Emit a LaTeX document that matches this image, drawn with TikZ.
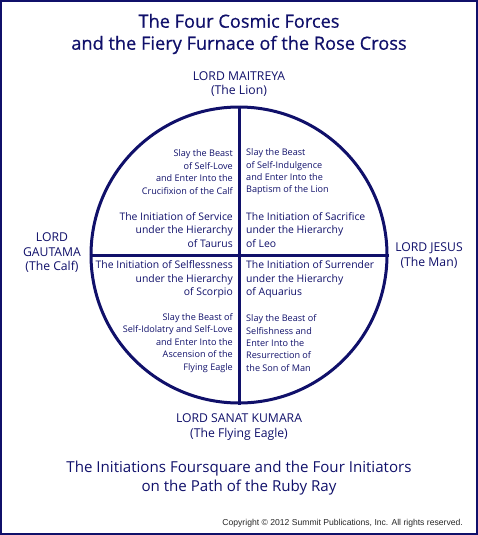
\documentclass[tikz,border=0pt]{standalone}
\usepackage{fontspec}
\setmainfont{Open Sans}
\newfontfamily\titlefont[FakeBold=0.6]{Open Sans}
\newfontfamily\copyfont{Liberation Sans}
\definecolor{navy}{RGB}{16,16,106}

\begin{document}
\begin{tikzpicture}[x=1pt,y=-1pt,
  every node/.style={text=navy,inner sep=0pt},
  title/.style={font=\titlefont\fontsize{18.2}{22}\selectfont,align=center},
  subtitle/.style={font=\fontsize{15.1}{19.5}\selectfont,align=center},
  lord/.style={font=\fontsize{12.2}{14.5}\selectfont,align=center},
  initiation/.style={font=\fontsize{10.4}{13.5}\selectfont},
  beast/.style={font=\fontsize{9.1}{12.4}\selectfont}]
  \useasboundingbox (0,0) rectangle (478,535);
  \draw[navy,line width=1.5pt] (1,1) rectangle (477,534);
  %
  \node[title] (title) at (239,34)
       {The Four Cosmic Forces\\and the Fiery Furnace of the Rose Cross};
  %
  \node[circle,draw=navy,line width=3pt,minimum size=296pt] (rose) at (239,255) {};
  \draw[navy,line width=3pt] (rose.north) -- (rose.south);
  \draw[navy,line width=3pt] (rose.west) -- (rose.east);
  %
  \node[lord] (maitreya) at (239,84) {LORD MAITREYA\\(The Lion)};
  \node[lord] (gautama) at (52,253) {LORD\\GAUTAMA\\(The Calf)};
  \node[lord] (jesus) at (429,255.5) {LORD JESUS\\(The Man)};
  \node[lord] (sanat) at (239,427) {LORD SANAT KUMARA\\(The Flying Eagle)};
  %
  % upper left
  \node[beast,align=right,anchor=east] (calf) at (233,172)
       {Slay the Beast\\of Self-Love\\and Enter Into the\\Crucifixion of the Calf};
  \node[initiation,align=right,anchor=east] (service) at (233,230)
       {The Initiation of Service\\under the Hierarchy\\of Taurus};
  % upper right
  \node[beast,align=left,anchor=west] (lion) at (246,172)
       {Slay the Beast\\of Self-Indulgence\\and Enter Into the\\Baptism of the Lion};
  \node[initiation,align=left,anchor=west] (sacrifice) at (246,230)
       {The Initiation of Sacrifice\\under the Hierarchy\\of Leo};
  % lower left
  \node[initiation,align=right,anchor=east] (selflessness) at (233,279.5)
       {The Initiation of Selflessness\\under the Hierarchy\\of Scorpio};
  \node[beast,align=right,anchor=east] (eagle) at (233,343)
       {Slay the Beast of\\Self-Idolatry and Self-Love\\and Enter Into the\\Ascension of the\\Flying Eagle};
  % lower right
  \node[initiation,align=left,anchor=west] (surrender) at (246,279.5)
       {The Initiation of Surrender\\under the Hierarchy\\of Aquarius};
  \node[beast,align=left,anchor=west] (man) at (246,343)
       {Slay the Beast of\\Selfishness and\\Enter Into the\\Resurrection of\\the Son of Man};
  %
  \node[subtitle] (subtitle) at (239,478)
       {The Initiations Foursquare and the Four Initiators\\on the Path of the Ruby Ray};
  \node[anchor=east,font=\copyfont\fontsize{8.6}{10}\selectfont,text=black!85] (copy) at (463,523)
       {Copyright \textcopyright\ 2012 Summit Publications, Inc. All rights reserved.};
\end{tikzpicture}
\end{document}
